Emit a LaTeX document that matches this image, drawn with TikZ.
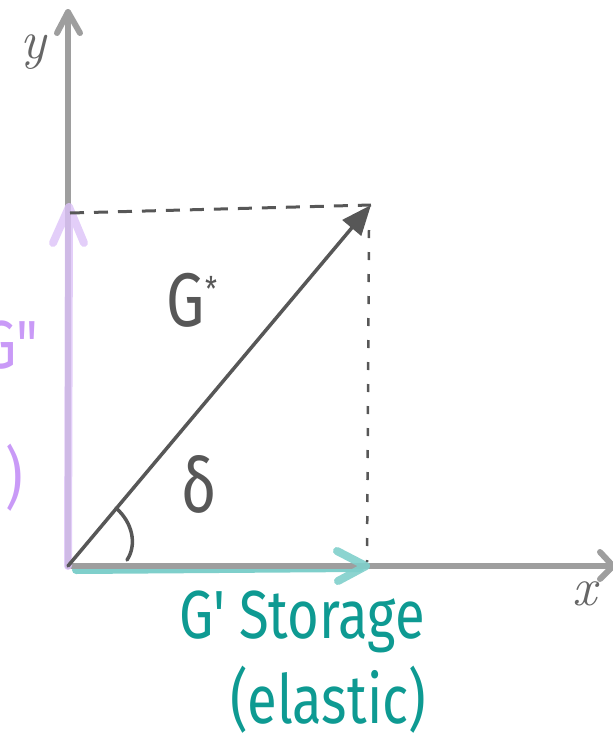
\documentclass[tikz,border=0pt]{standalone}
\usepackage{fontspec}
\newfontfamily\hand{Fira Sans}[FakeStretch=0.8]
\usetikzlibrary{arrows.meta}
\definecolor{axisgray}{HTML}{9E9E9E}
\definecolor{darkgray}{HTML}{575757}
\definecolor{tealline}{HTML}{7FCFCB}
\definecolor{tealtext}{HTML}{0E9A92}
\definecolor{purpleline}{HTML}{DCC2F8}
\definecolor{purpletext}{HTML}{C99AF7}
\definecolor{labelgray}{HTML}{666666}
\begin{document}
\begin{tikzpicture}[x=1pt,y=-1pt,
  axis/.style={draw=axisgray,line width=6pt,line cap=round,line join=round},
  tealvec/.style={draw=tealline,line width=8pt,line cap=round,line join=round},
  purplevec/.style={draw=purpleline,line width=8pt,line cap=round,line join=round,opacity=0.8},
  gstar/.style={draw=darkgray,line width=3.5pt,line cap=round},
  guide/.style={draw=darkgray,line width=3pt},
  handlabel/.style={font=\hand\fontsize{68}{68}\selectfont,inner sep=0pt},
  axislabel/.style={text=labelgray,font=\fontsize{54}{54}\selectfont\itshape,inner sep=0pt}]
\clip (0,0) rectangle (613,742);
\coordinate (O) at (68,566);
\coordinate (Ytop) at (68,12);
\coordinate (Xend) at (613,566);
\coordinate (P) at (371,205);
\coordinate (Gpp) at (69,207);
\coordinate (Gp) at (366,566);
\coordinate (TealStart) at (76,570);
\coordinate (TealEnd) at (360,568);
\coordinate (Hd) at (70,213);
\coordinate (Vd) at (369,230);
\coordinate (Vb) at (367,562);
\coordinate (A1) at (116,508);
\coordinate (A2) at (127,560);
% teal shaft under axis
\draw[tealvec] (TealStart) -- (TealEnd);
% axes
\draw[axis] (O) -- (Ytop);
\draw[axis] (O) -- (Xend);
\draw[axis] (Ytop) ++(-11,21) -- (Ytop) -- ++(12,21);
\draw[axis] (Xend) ++(-13,-14) -- (Xend) -- ++(-13,13);
% purple G''
\draw[purplevec] (O) -- (Gpp) (Gpp) ++(-16,36) -- (Gpp) -- ++(15,36);
% teal arrowhead
\draw[tealvec,opacity=0.9] (Gp) ++(-29,-15) -- (Gp) -- ++(-28,15);
% guides
\draw[guide,dash pattern=on 14pt off 10pt] (Hd) -- (P);
\draw[guide,line width=2.5pt,dash pattern=on 8pt off 14pt] (Vd) -- (Vb);
% G* vector
\draw[gstar,-{Triangle[length=30pt,width=24pt]}] (O) -- (P);
% angle
\draw[gstar] (A1) .. controls (133,523) and (137,545) .. (A2);
% labels
\node[handlabel,text=darkgray,font=\hand\fontsize{76}{76}\selectfont] (gstarlab) at (192,300) {G\raisebox{0.32em}{\fontsize{34}{34}\selectfont *}};
\node[handlabel,text=darkgray,font=\hand\fontsize{76}{76}\selectfont] (delta) at (199,484) {δ};
\node[handlabel,text=tealtext] (storage) at (302,622) {G' Storage};
\node[handlabel,text=tealtext] (elastic) at (328,700) {(elastic)};
\node[handlabel,text=purpletext,anchor=east] (loss) at (38,345) {G"};
\node[handlabel,text=purpletext,anchor=east] (visc) at (23,478) {)};
\node[axislabel] (ylab) at (33,52) {y};
\node[axislabel] (xlab) at (585,594) {x};
\end{tikzpicture}
\end{document}
